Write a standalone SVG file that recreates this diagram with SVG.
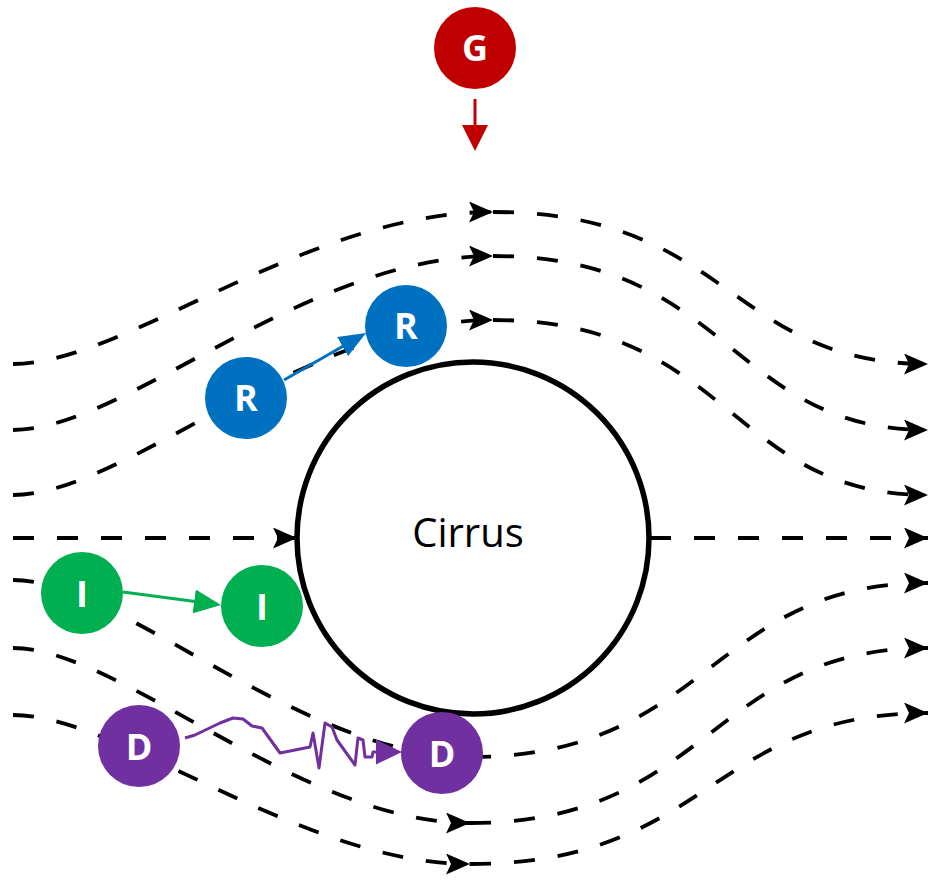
<svg xmlns="http://www.w3.org/2000/svg" width="930" height="882" viewBox="0 0 930 882">
  <defs>
    <style>
      .flow { fill: none; stroke: #000; stroke-width: 3.8; stroke-dasharray: 21 23; }
      .link { fill: none; stroke-width: 3; }
      .label { font-family: "Open Sans", "Liberation Sans", sans-serif; font-weight: bold; font-size: 36px; fill: #fff; text-anchor: middle; }
      .title { font-family: "Open Sans", "Liberation Sans", sans-serif; font-size: 40px; fill: #000; text-anchor: middle; }
    </style>
    <marker id="stealth" viewBox="0 0 24 21" refX="24" refY="10.5" markerWidth="24" markerHeight="21" markerUnits="userSpaceOnUse" orient="auto">
      <path d="M0,0 L24,10.5 L0,21 L5,10.5 z" fill="#000"/>
    </marker>
    <marker id="headRed" viewBox="0 0 26 26" refX="21" refY="13" markerWidth="26" markerHeight="26" markerUnits="userSpaceOnUse" orient="auto">
      <path d="M0,0 L26,13 L0,26 z" fill="#C00000"/>
    </marker>
    <marker id="headBlue" viewBox="0 0 27 22" refX="22" refY="11" markerWidth="27" markerHeight="22" markerUnits="userSpaceOnUse" orient="auto">
      <path d="M0,0 L27,11 L0,22 z" fill="#0070C0"/>
    </marker>
    <marker id="headGreen" viewBox="0 0 27 24" refX="22" refY="12" markerWidth="27" markerHeight="24" markerUnits="userSpaceOnUse" orient="auto">
      <path d="M0,0 L27,12 L0,24 z" fill="#00B050"/>
    </marker>
    <marker id="headPurple" viewBox="0 0 26 25" refX="21" refY="12.5" markerWidth="26" markerHeight="25" markerUnits="userSpaceOnUse" orient="auto">
      <path d="M0,0 L26,12.5 L0,25 z" fill="#7030A0"/>
    </marker>
  </defs>

  <!-- streamlines around the cloud -->
  <g id="streamlines">
    <path class="flow" d="M13,364 C125,364 305,212 493,212" marker-end="url(#stealth)"/>
    <path class="flow" d="M493,212 C730,212 730,364 928,364" marker-end="url(#stealth)"/>
    <path class="flow" d="M13,430 C125,430 305,256 493,256" marker-end="url(#stealth)"/>
    <path class="flow" d="M493,256 C730,256 730,430 928,430" marker-end="url(#stealth)"/>
    <path class="flow" d="M13,495 C125,495 305,320 493,320" marker-end="url(#stealth)"/>
    <path class="flow" d="M493,320 C730,320 730,495 928,495" marker-end="url(#stealth)"/>
    <path class="flow" d="M13,538 L297,538" marker-end="url(#stealth)"/>
    <path class="flow" d="M650,538 L928,538" marker-end="url(#stealth)"/>
    <path class="flow" d="M13,580 C120,580 300,757 470,757" marker-end="url(#stealth)"/>
    <path class="flow" d="M470,757 C710,757 710,583 928,583" marker-end="url(#stealth)"/>
    <path class="flow" d="M13,648 C120,648 300,823 470,823" marker-end="url(#stealth)"/>
    <path class="flow" d="M470,823 C710,823 710,648 928,648" marker-end="url(#stealth)"/>
    <path class="flow" d="M13,715 C120,715 300,864 470,864" marker-end="url(#stealth)"/>
    <path class="flow" d="M470,864 C710,864 710,713 928,713" marker-end="url(#stealth)"/>
  </g>

  <!-- particle motion arrows -->
  <g id="connectors">
    <path class="link" stroke="#C00000" d="M475,99 L475,146" marker-end="url(#headRed)"/>
    <path class="link" stroke="#0070C0" d="M284,380 L361.7,335.5" marker-end="url(#headBlue)"/>
    <path class="link" stroke="#00B050" d="M123,592 L216,604.3" marker-end="url(#headGreen)"/>
    <polyline class="link" stroke="#7030A0" stroke-width="2.8" stroke-linejoin="round" points="185,738 195,735 220,723 233,718 243,719 252,726 262,728 280,753 310,747 313,733 319,768 325,723 332,727 337,740 355,765 358,738 363,740 365,757 372,757 373,752 397,752" marker-end="url(#headPurple)"/>
  </g>

  <g id="cirrus">
    <circle cx="473" cy="538" r="176" fill="#fff" stroke="#000" stroke-width="5.5"/>
    <text class="title" x="468" y="547">Cirrus</text>
  </g>

  <g id="node-g">
    <circle cx="475" cy="48" r="41" fill="#C00000"/>
    <text class="label" x="475" y="61">G</text>
  </g>
  <g id="node-r1">
    <circle cx="246" cy="398" r="41" fill="#0070C0"/>
    <text class="label" x="246" y="411">R</text>
  </g>
  <g id="node-r2">
    <circle cx="406" cy="326" r="41" fill="#0070C0"/>
    <text class="label" x="406" y="339">R</text>
  </g>
  <g id="node-i1">
    <circle cx="82" cy="593" r="41" fill="#00B050"/>
    <text class="label" x="82" y="607">I</text>
  </g>
  <g id="node-i2">
    <circle cx="262" cy="606" r="41" fill="#00B050"/>
    <text class="label" x="262" y="620">I</text>
  </g>
  <g id="node-d1">
    <circle cx="139" cy="746" r="41" fill="#7030A0"/>
    <text class="label" x="139" y="760">D</text>
  </g>
  <g id="node-d2">
    <circle cx="442" cy="753" r="41" fill="#7030A0"/>
    <text class="label" x="442" y="767">D</text>
  </g>
</svg>
